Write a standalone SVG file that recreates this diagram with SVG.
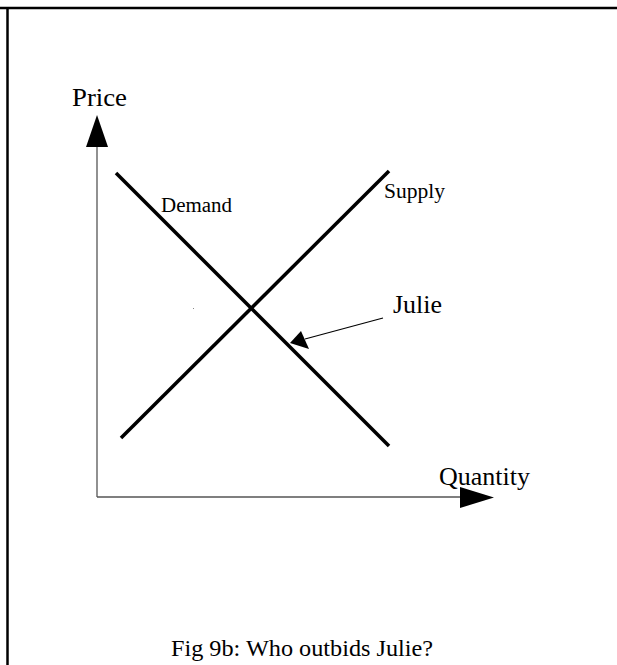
<svg xmlns="http://www.w3.org/2000/svg" width="617" height="665" viewBox="0 0 617 665">
<style>
.t{font-family:"Liberation Serif","Times New Roman",serif;fill:#000}
.border{stroke:#000;stroke-width:2.5;fill:none}
.axis{stroke:#555;stroke-width:1.3;fill:none}
.curve{stroke:#000;stroke-width:3.5;fill:none;stroke-linecap:butt}
</style>
<rect width="617" height="665" fill="#fff"/>
<g id="frame">
<line class="border" x1="0" y1="8" x2="617" y2="8"/>
<line class="border" x1="7.5" y1="8" x2="7.5" y2="665"/>
</g>
<g id="connectors">
<line class="axis" x1="97" y1="146" x2="97" y2="497"/>
<polygon points="97,115 86,147 108,147" fill="#000"/>
<line class="axis" x1="97" y1="497" x2="461" y2="497"/>
<polygon points="494,497.5 460,487 460,508" fill="#000"/>
<line class="curve" x1="116" y1="173" x2="389" y2="446"/>
<line class="curve" x1="121" y1="438" x2="389" y2="171"/>
<line stroke="#000" stroke-width="1.2" x1="383" y1="318" x2="305" y2="339"/>
<polygon points="290,343 301,331 309,349" fill="#000"/>
<rect x="193" y="308" width="1" height="1" fill="#888"/>
</g>
<g id="price"><text class="t" x="72" y="106" font-size="25" textLength="55" lengthAdjust="spacingAndGlyphs">Price</text></g>
<g id="quantity"><text class="t" x="439" y="485" font-size="25" textLength="91" lengthAdjust="spacingAndGlyphs">Quantity</text></g>
<g id="demand"><text class="t" x="161" y="212" font-size="20" textLength="71" lengthAdjust="spacingAndGlyphs">Demand</text></g>
<g id="supply"><text class="t" x="384" y="198" font-size="20" textLength="61" lengthAdjust="spacingAndGlyphs">Supply</text></g>
<g id="julie"><text class="t" x="393" y="313" font-size="26" textLength="49" lengthAdjust="spacingAndGlyphs">Julie</text></g>
<g id="caption"><text class="t" x="171" y="656" font-size="24" textLength="262" lengthAdjust="spacingAndGlyphs">Fig 9b: Who outbids Julie?</text></g>
</svg>
